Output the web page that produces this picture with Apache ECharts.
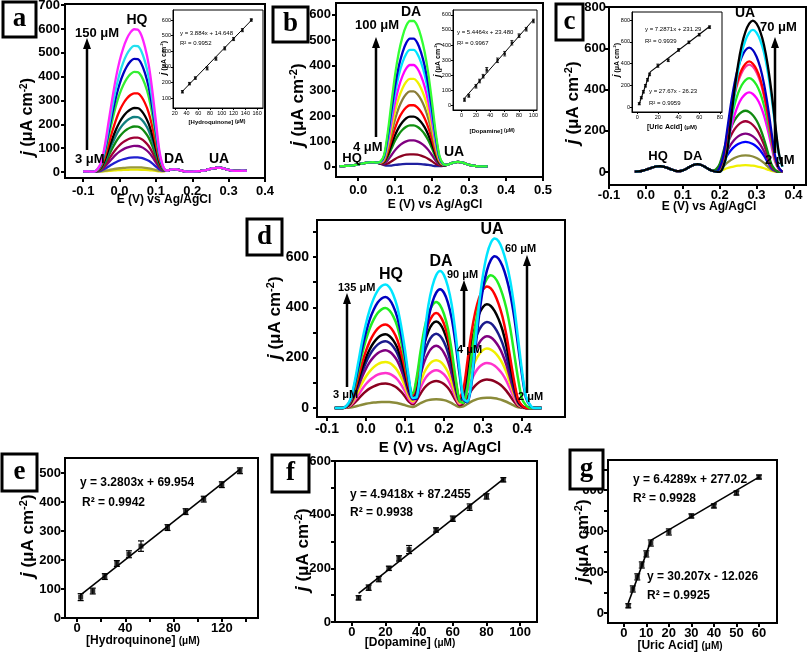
<!DOCTYPE html>
<html>
<head>
<meta charset="utf-8">
<script src="https://cdn.jsdelivr.net/npm/echarts@6.0.0/dist/echarts.min.js"></script>
<style>
html,body{margin:0;padding:0;background:#fff;}
#chart{width:807px;height:652px;}
</style>
</head>
<body>
<div id="chart"></div>
<script>
// ================= DATA =================
// Panel a: HQ varied (3 -> 150 uM)
const aPotential = [-0.10,-0.09,-0.08,-0.07,-0.06,-0.05,-0.04,-0.03,-0.02,-0.01,0.00,0.01,0.02,0.03,0.04,0.05,0.06,0.07,0.08,0.09,0.10,0.11,0.12,0.13,0.14,0.15,0.16,0.17,0.18,0.19,0.20,0.21,0.22,0.23,0.24,0.25,0.26,0.27,0.28,0.29,0.30,0.31,0.32,0.33,0.34,0.35];
const aBackground = [3,3,2,2,2,2,2,2,2,2,2,2,2,2,2,2,2,2,2,2,2,2,3,6,10,12,10,6,3,2,2,3,4,6,9,13,16,18,17,13,9,6,5,5,6,5];
const aHQShape = [[-0.06,0.02],[-0.05,0.07],[-0.04,0.19],[-0.03,0.35],[-0.02,0.51],[-0.01,0.655],[0.00,0.773],[0.01,0.862],[0.02,0.928],[0.03,0.973],[0.04,0.995],[0.05,0.993],[0.06,0.953],[0.07,0.87],[0.08,0.75],[0.09,0.57],[0.10,0.35],[0.11,0.14],[0.12,0.035]];
const aHQPeak = [8,18,60,108,143,190,230,268,330,420,475,530,600];

// Panel b: DA varied (4 -> 100 uM)
const bPotential = [-0.05,-0.04,-0.03,-0.02,-0.01,0.00,0.01,0.02,0.03,0.04,0.05,0.06,0.07,0.08,0.09,0.10,0.11,0.12,0.13,0.14,0.15,0.16,0.17,0.18,0.19,0.20,0.21,0.22,0.23,0.24,0.25,0.26,0.27,0.28,0.29,0.30,0.31,0.32,0.33,0.34,0.35];
const bBackground = [3,3,4,5,7,10,13,16,18,19,17,12,6,2,0,0,0,0,0,0,0,0,0,0,0,0,0,2,4,8,13,18,20,18,13,8,5,3,2,2,2];
const bDAShape = [[0.06,0.015],[0.07,0.07],[0.08,0.23],[0.09,0.437],[0.10,0.63],[0.11,0.78],[0.12,0.887],[0.13,0.96],[0.14,0.993],[0.15,0.993],[0.16,0.96],[0.17,0.887],[0.18,0.78],[0.19,0.63],[0.20,0.437],[0.21,0.23],[0.22,0.07],[0.23,0.015]];
const bDAPeak = [12,50,105,165,200,245,300,350,405,465,510,580];

// Panel c: UA varied (2 -> 70 uM)
const cPotential = [-0.03,-0.02,-0.01,0.00,0.01,0.02,0.03,0.04,0.05,0.06,0.07,0.08,0.09,0.10,0.11,0.12,0.13,0.14,0.15,0.16,0.17,0.18,0.19,0.20,0.21,0.22,0.23,0.24,0.25,0.26,0.27,0.28,0.29,0.30,0.31,0.32,0.33,0.34,0.35,0.36,0.37];
const cBackground = [2,3,6,11,17,23,27,28,25,19,12,6,4,8,16,27,35,38,34,25,14,6,2,1,1,1,1,1,1,1,1,1,1,1,1,1,1,1,1,1,1];
const cUAShape = [[0.19,0.035],[0.20,0.13],[0.21,0.33],[0.22,0.537],[0.23,0.71],[0.24,0.84],[0.25,0.927],[0.26,0.98],[0.27,1.00],[0.28,0.98],[0.29,0.927],[0.30,0.84],[0.31,0.71],[0.32,0.537],[0.33,0.33],[0.34,0.13],[0.35,0.035]];
const cUAPeak = [32,80,145,185,245,296,385,454,520,535,602,688,733];
const cUAShiftSteps = [0,0,0,0,0,0,1,1,1,1,1,2,2];

// Panel d: simultaneous HQ / DA / UA
const dPotential = [-0.08,-0.07,-0.06,-0.05,-0.04,-0.03,-0.02,-0.01,0.00,0.01,0.02,0.03,0.04,0.05,0.06,0.07,0.08,0.09,0.10,0.11,0.12,0.13,0.14,0.15,0.16,0.17,0.18,0.19,0.20,0.21,0.22,0.23,0.24,0.25,0.26,0.27,0.28,0.29,0.30,0.31,0.32,0.33,0.34,0.35,0.36,0.37,0.38,0.39,0.40,0.41,0.42,0.43,0.44,0.45];
const dHQShape = [[-0.05,0.018],[-0.04,0.07],[-0.03,0.197],[-0.02,0.365],[-0.01,0.537],[0.00,0.683],[0.01,0.80],[0.02,0.887],[0.03,0.95],[0.04,0.987],[0.05,1.00],[0.06,0.977],[0.07,0.917],[0.08,0.82],[0.09,0.665],[0.10,0.47],[0.11,0.245],[0.12,0.07],[0.13,0.01]];
const dDAShape = [[0.11,0.01],[0.12,0.07],[0.13,0.28],[0.14,0.537],[0.15,0.75],[0.16,0.887],[0.17,0.97],[0.18,1.00],[0.19,0.97],[0.20,0.887],[0.21,0.75],[0.22,0.537],[0.23,0.28],[0.24,0.07],[0.25,0.01]];
const dUAShape = [[0.24,0.03],[0.25,0.15],[0.26,0.38],[0.27,0.61],[0.28,0.785],[0.29,0.905],[0.30,0.974],[0.31,1.00],[0.32,0.984],[0.33,0.935],[0.34,0.857],[0.35,0.75],[0.36,0.60],[0.37,0.41],[0.38,0.22],[0.39,0.07],[0.40,0.02]];
const dHQPeak = [24,97,139,183,229,265,293,332,397,441,491];
const dDAPeak = [35,107,150,190,247,295,344,377,421,472,544];
const dUAPeak = [41,113,179,236,285,342,412,483,527,603,673];
const dDAShiftSteps = [0,0,0,0,0,0,0,0,0,1,1];
const dUAShiftSteps = [0,0,0,0,0,0,0,0,1,2,2];

// Panel e: calibration HQ
const eConc = [3,13,23,33,43,53,75,90,105,120,135];
const eCurrent = [72,93,143,188,220,248,312,367,410,460,508];
const eError = [12,10,10,10,12,18,10,10,10,10,10];
const eFit = [3.2803, 69.954];   // slope, intercept
const eFitRange = [3, 135];

// Panel f: calibration DA
const fConc = [4,10,16,22,28,34,50,60,70,80,90];
const fCurrent = [90,128,160,200,237,270,343,385,428,468,530];
const fError = [8,10,10,8,10,15,8,10,12,10,8];
const fFit = [4.9418, 87.2455];
const fFitRange = [4, 90];

// Panel g: calibration UA (two linear ranges)
const gConc = [2,4,6,8,10,12,20,30,40,50,60];
const gCurrent = [35,117,176,234,288,341,395,473,522,585,663];
const gError = [10,15,15,15,15,15,15,10,10,10,10];
const gFitLow = [30.207, -12.026];
const gFitLowRange = [2, 12.16];
const gFitHigh = [6.4289, 277.02];
const gFitHighRange = [12.16, 60];

// Insets
const iaConc = [33,45,55,75,90,105,120,135,150];
const iaCurrent = [140,192,228,290,352,418,478,535,600];
const iaError = [8,8,8,10,10,10,10,10,8];
const iaFit = [3.884, 14.648];
const iaFitRange = [33, 152];

const ibConc = [4,10,20,25,30,35,50,60,70,80,90,100];
const ibCurrent = [35,62,125,160,192,235,298,342,415,462,505,560];
const ibError = [10,10,12,12,12,15,15,15,15,12,12,12];
const ibFit = [5.4464, 23.480];
const ibFitRange = [4, 100];

const icConc = [2,4,6,8,10,12,20,30,40,50,60,70];
const icCurrent = [30,85,140,195,250,300,380,430,525,595,665,735];
const icError = [10,10,12,12,12,12,15,12,12,12,12,12];
const icFitLow = [27.67, -26.23];
const icFitLowRange = [2, 12.63];
const icFitHigh = [7.2871, 231.29];
const icFitHighRange = [12.63, 70];

// ================= STYLES =================
const aColors = ['#e8e800','#9a9a3a','#1f1fd0','#800080','#a00035','#108a10','#108080','#000000','#ff0000','#33ee33','#0000c0','#22e0ee','#ff22ff'];
const bColors = ['#2020a0','#8b0020','#800080','#109010','#000000','#ff0000','#8b7d3a','#f0f000','#ff00ff','#00e5ff','#0000cd','#33ff33'];
const cColors = ['#f0f000','#8b8b3a','#0000ff','#800080','#a00035','#108a10','#ff00ff','#22ee22','#ff3399','#ff0000','#0000c0','#00e5ff','#000000'];
const dColors = ['#8b8b3a','#8b0020','#ff33cc','#f0f000','#800080','#1a1a8c','#000000','#ff0000','#22ee22','#0000c0','#00e5ff'];

const FONT = 'Liberation Sans, Arial, sans-serif';
const SERIF = 'Liberation Serif, Times New Roman, serif';

// ================= BUILD =================
const grids = [], xAxes = [], yAxes = [], series = [], graphic = [];

function fmt1(v){ return (Math.abs(v) < 1e-9 ? 0 : v).toFixed(1); }
function fmt0(v){ return String(Math.round(v)); }

function panel(p){
  const i = grids.length;
  grids.push({left:p.l, top:p.t, width:p.w, height:p.h, show:true, borderColor:'#000', borderWidth:p.bw,
    backgroundColor:'rgba(0,0,0,0)', containLabel:false, outerBoundsMode:'none'});
  const mk = (range, ticks, labels, fmt, margin) => ({
    type:'value', gridIndex:i, min:range[0], max:range[1], scale:true,
    axisLine:{show:true, onZero:false, lineStyle:{color:'#000', width:p.bw}},
    axisTick:{show:true, customValues:ticks, length:p.tl, lineStyle:{color:'#000', width:p.bw}},
    axisLabel:{show:true, customValues:labels, formatter:fmt, color:'#000', fontSize:p.fs,
      fontWeight:p.fw || 'bold', fontFamily:FONT, margin:margin},
    splitLine:{show:false}
  });
  xAxes.push(mk(p.x, p.xt, p.xl || p.xt, p.xf, p.mx));
  yAxes.push(mk(p.y, p.yt, p.yl || p.yt, p.yf, p.my));
  return i;
}

function lookup(pairs, s){
  const m = new Map();
  pairs.forEach(pr => m.set(Math.round(pr[0]*100), pr[1]));
  return e => m.get(Math.round(e*100) - (s||0)) || 0;
}

function curve(gi, pts, color, w){
  series.push({type:'line', xAxisIndex:gi, yAxisIndex:gi, data:pts, showSymbol:false, smooth:0.3,
    lineStyle:{color:color, width:w || 2.3}, silent:true, z:2});
}

function errBars(gi, xs, ys, es, cap, lw){
  series.push({type:'custom', xAxisIndex:gi, yAxisIndex:gi, silent:true, z:3,
    data: xs.map((x,k)=>[x, ys[k], es[k]]),
    renderItem:(params, api)=>{
      const x = api.value(0), y = api.value(1), e = api.value(2);
      const a = api.coord([x, y+e]), b = api.coord([x, y-e]);
      const st = {stroke:'#000', lineWidth:lw};
      return {type:'group', children:[
        {type:'line', shape:{x1:a[0], y1:a[1], x2:b[0], y2:b[1]}, style:st},
        {type:'line', shape:{x1:a[0]-cap, y1:a[1], x2:a[0]+cap, y2:a[1]}, style:st},
        {type:'line', shape:{x1:b[0]-cap, y1:b[1], x2:b[0]+cap, y2:b[1]}, style:st}
      ]};
    }});
}
function points(gi, xs, ys, size){
  series.push({type:'scatter', xAxisIndex:gi, yAxisIndex:gi, symbol:'rect', symbolSize:size,
    itemStyle:{color:'#000'}, data: xs.map((x,k)=>[x, ys[k]]), silent:true, z:4});
}
function fitLine(gi, coef, range, w){
  series.push({type:'line', xAxisIndex:gi, yAxisIndex:gi, showSymbol:false, silent:true, z:3,
    lineStyle:{color:'#000', width:w},
    data: range.map(x => [x, coef[0]*x + coef[1]])});
}

// ---- text helpers ----
function txt(x, y, s, size, align, extra){
  graphic.push({type:'text', x:x, y:y, z:100, silent:true, style:Object.assign({
    text:s, fill:'#000', fontSize:size, fontWeight:'bold', fontFamily:FONT,
    align:align||'left', textAlign:align||'left', verticalAlign:'middle', textVerticalAlign:'middle'}, extra||{})});
}
function arrow(x, yb, yt, w, hw, hl){
  graphic.push({type:'line', z:100, silent:true, shape:{x1:x, y1:yb, x2:x, y2:yt+hl-1}, style:{stroke:'#000', lineWidth:w}});
  graphic.push({type:'polygon', z:100, silent:true, shape:{points:[[x-hw, yt+hl],[x+hw, yt+hl],[x, yt]]}, style:{fill:'#000'}});
}
function letterBox(x, y, w, h, ch){
  graphic.push({type:'rect', z:110, silent:true, shape:{x:x, y:y, width:w, height:h}, style:{fill:'#fff', stroke:'#000', lineWidth:3}});
  graphic.push({type:'text', z:111, silent:true, x:x+w/2, y:y+h/2, style:{text:ch, fill:'#000', fontSize:27, fontWeight:'bold', fontFamily:SERIF,
    align:'center', textAlign:'center', verticalAlign:'middle', textVerticalAlign:'middle'}});
}
function yTitle(x, y, size){
  graphic.push({type:'text', z:100, silent:true, x:x, y:y, rotation:Math.PI/2, style:{
    text:'{j|j}{n| (}{m|μA cm}{s|-2}{n|)}', fill:'#000',
    align:'center', textAlign:'center', verticalAlign:'middle', textVerticalAlign:'middle',
    rich:{
      j:{fontSize:size+2, fontStyle:'italic', fontWeight:'bold', fontFamily:FONT, fill:'#000'},
      n:{fontSize:size, fontWeight:'bold', fontFamily:FONT, fill:'#000'},
      m:{fontSize:size, fontWeight:'bold', fontFamily:FONT, fill:'#000'},
      s:{fontSize:Math.round(size*0.62), fontWeight:'bold', fontFamily:FONT, fill:'#000', verticalAlign:'top', padding:[0,0,Math.round(size*0.45),0]}
    }}});
}
function concTitle(x, y, name, size){
  graphic.push({type:'text', z:100, silent:true, x:x, y:y, style:{
    text:'{a|' + name + ' }{b|(μM)}', fill:'#000',
    align:'center', textAlign:'center', verticalAlign:'middle', textVerticalAlign:'middle',
    rich:{a:{fontSize:size, fontWeight:'bold', fontFamily:FONT, fill:'#000'},
          b:{fontSize:Math.round(size*0.85), fontWeight:'bold', fontFamily:FONT, fill:'#000'}}}});
}

// ================= PANEL a =================
const PA = panel({l:65, t:4, w:200, h:174, x:[-0.15,0.4], y:[-25,705],
  xt:[-0.1,0,0.1,0.2,0.3,0.4], yt:[0,100,200,300,400,500,600,700], xf:fmt1, yf:fmt0,
  fs:13, bw:2, tl:4, mx:7, my:5});
{
  const shape = lookup(aHQShape);
  aHQPeak.forEach((h,k)=>{
    curve(PA, aPotential.map((e,j)=>[e, aBackground[j] + h*shape(e)]), aColors[k]);
  });
}
// ================= PANEL b =================
const PB = panel({l:336, t:3, w:207, h:174, x:[-0.06,0.5], y:[-40,647],
  xt:[0,0.1,0.2,0.3,0.4,0.5], yt:[0,100,200,300,400,500,600], xf:fmt1, yf:fmt0,
  fs:13, bw:2, tl:4, mx:7, my:5});
{
  const shape = lookup(bDAShape);
  bDAPeak.forEach((h,k)=>{
    curve(PB, bPotential.map((e,j)=>[e, bBackground[j] + h*shape(e)]), bColors[k]);
  });
}
// ================= PANEL c =================
const PC = panel({l:609, t:7, w:197, h:178, x:[-0.1,0.434], y:[-63,800],
  xt:[-0.1,0,0.1,0.2,0.3,0.4], yt:[0,200,400,600,800], xf:fmt1, yf:fmt0,
  fs:13, bw:2, tl:4, mx:4, my:3});
{
  cUAPeak.forEach((h,k)=>{
    const shape = lookup(cUAShape, cUAShiftSteps[k]);
    curve(PC, cPotential.map((e,j)=>[e, cBackground[j] + h*shape(e)]), cColors[k]);
  });
}
// ================= PANEL d =================
const PD = panel({l:317, t:220, w:248, h:197, x:[-0.1256,0.5103], y:[-36,747],
  xt:[-0.1,0,0.1,0.2,0.3,0.4], yt:[0,100,200,300,400,500,600,700], yl:[0,200,400,600], xf:fmt1, yf:fmt0,
  fs:14, bw:2, tl:4, mx:5, my:8});
{
  const hq = lookup(dHQShape);
  dHQPeak.forEach((h,k)=>{
    const da = lookup(dDAShape, dDAShiftSteps[k]);
    const ua = lookup(dUAShape, dUAShiftSteps[k]);
    curve(PD, dPotential.map(e=>[e, h*hq(e) + dDAPeak[k]*da(e) + dUAPeak[k]*ua(e)]), dColors[k], 2.5);
  });
}
// ================= PANEL e =================
const PE = panel({l:65, t:458, w:193, h:160, x:[-10,150], y:[0,552],
  xt:[0,20,40,60,80,100,120,140], xl:[0,40,80,120], yt:[0,100,200,300,400,500], xf:fmt0, yf:fmt0,
  fs:13, bw:2, tl:4, mx:4, my:4});
fitLine(PE, eFit, eFitRange, 1.6); errBars(PE, eConc, eCurrent, eError, 3, 1.2); points(PE, eConc, eCurrent, 5);
// ================= PANEL f =================
const PF = panel({l:335, t:461, w:202, h:161, x:[-10,110], y:[0,600],
  xt:[0,20,40,60,80,100], yt:[0,100,200,300,400,500,600], yl:[0,200,400,600], xf:fmt0, yf:fmt0,
  fs:13, bw:2, tl:4, mx:4, my:4});
fitLine(PF, fFit, fFitRange, 1.6); errBars(PF, fConc, fCurrent, fError, 3, 1.2); points(PF, fConc, fCurrent, 5);
// ================= PANEL g =================
const PG = panel({l:608, t:460, w:169, h:163, x:[-7,68], y:[-49,746],
  xt:[0,10,20,30,40,50,60], yt:[0,100,200,300,400,500,600,700], yl:[0,200,400,600], xf:fmt0, yf:fmt0,
  fs:13, bw:2, tl:4, mx:4, my:4});
fitLine(PG, gFitLow, gFitLowRange, 1.6); fitLine(PG, gFitHigh, gFitHighRange, 1.6);
errBars(PG, gConc, gCurrent, gError, 3, 1.2); points(PG, gConc, gCurrent, 5);

// ================= INSETS =================
const IA = panel({l:173, t:10, w:90, h:98, x:[17,170], y:[36,664],
  xt:[20,40,60,80,100,120,140,160], yt:[100,200,300,400,500,600], xf:fmt0, yf:fmt0,
  fs:5.5, fw:'normal', bw:1, tl:2, mx:2, my:2});
fitLine(IA, iaFit, iaFitRange, 1); errBars(IA, iaConc, iaCurrent, iaError, 1.5, 0.8); points(IA, iaConc, iaCurrent, 2.5);

const IB = panel({l:453, t:10, w:84, h:100, x:[-12,105], y:[-33,633],
  xt:[0,20,40,60,80,100], yt:[0,100,200,300,400,500,600], xf:fmt0, yf:fmt0,
  fs:5.5, fw:'normal', bw:1, tl:2, mx:2, my:2});
fitLine(IB, ibFit, ibFitRange, 1); errBars(IB, ibConc, ibCurrent, ibError, 1.5, 0.8); points(IB, ibConc, ibCurrent, 2.5);

const IC = panel({l:632, t:12, w:90, h:100, x:[-5,82], y:[-46,874],
  xt:[0,20,40,60,80], yt:[0,200,400,600,800], xf:fmt0, yf:fmt0,
  fs:5.5, fw:'normal', bw:1, tl:2, mx:2, my:2});
fitLine(IC, icFitLow, icFitLowRange, 1.2); fitLine(IC, icFitHigh, icFitHighRange, 1.2);
errBars(IC, icConc, icCurrent, icError, 1.5, 0.8); points(IC, icConc, icCurrent, 2.5);

// ================= ANNOTATIONS =================
// panel a
txt(137, 20, 'HQ', 14, 'center');
txt(75, 33, '150 μM', 13); arrow(87, 150, 38, 2.5, 4, 11);
txt(75, 159, '3 μM', 13);
txt(174, 159, 'DA', 14, 'center'); txt(219, 159, 'UA', 14, 'center');
txt(164, 200, 'E (V) vs Ag/AgCl', 12, 'center');
yTitle(28, 117, 16);
// panel b
txt(411, 12, 'DA', 14, 'center');
txt(355, 25, '100 μM', 13); arrow(376, 137, 37, 2.5, 4, 11);
txt(353, 147, '4 μM', 13);
txt(352, 158, 'HQ', 13, 'center'); txt(454, 152, 'UA', 14, 'center');
txt(435, 205, 'E (V) vs Ag/AgCl', 12, 'center');
yTitle(298, 105, 17);
// panel c
txt(745, 13, 'UA', 14, 'center');
txt(760, 27, '70 μM', 13); arrow(775, 153, 37, 2.5, 4, 11);
txt(765, 160, '2 μM', 13);
txt(658, 156, 'HQ', 13, 'center'); txt(693, 156, 'DA', 13, 'center');
txt(709, 207, 'E (V) vs Ag/AgCl', 12, 'center');
yTitle(573, 103, 17);
// panel d
txt(492, 230, 'UA', 16, 'center'); txt(441, 262, 'DA', 16, 'center'); txt(391, 275, 'HQ', 16, 'center');
txt(505, 249, '60 μM', 11); arrow(527, 393, 255, 2.5, 4, 11);
txt(447, 275, '90 μM', 11); arrow(464, 347, 280, 2.5, 4, 11);
txt(457, 350, '4 μM', 11);
txt(338, 288, '135 μM', 11); arrow(347, 387, 293, 2.5, 4, 11);
txt(333, 395, '3 μM', 11); txt(518, 397, '2 μM', 11);
txt(440, 448, 'E (V) vs. Ag/AgCl', 15, 'center');
yTitle(275, 318, 17);
// panel e
txt(80, 483, 'y = 3.2803x + 69.954', 12); txt(82, 503, 'R² = 0.9942', 12);
concTitle(143, 641, '[Hydroquinone]', 12); yTitle(28, 536, 17);
// panel f
txt(350, 495, 'y = 4.9418x + 87.2455', 12); txt(350, 513, 'R² = 0.9938', 12);
concTitle(410, 643, '[Dopamine]', 12); yTitle(303, 550, 17);
// panel g
txt(633, 480, 'y = 6.4289x + 277.02', 12); txt(633, 499, 'R² = 0.9928', 12);
txt(647, 577, 'y = 30.207x - 12.026', 12); txt(647, 596, 'R² = 0.9925', 12);
concTitle(680, 646, '[Uric Acid]', 12); yTitle(583, 541, 17);
// inset a
txt(180, 33, 'y = 3.884x + 14.648', 6, 'left', {fontWeight:'normal'});
txt(180, 43, 'R² = 0.9952', 6, 'left', {fontWeight:'normal'});
concTitle(217, 122, '[Hydroquinone]', 6); yTitle(164, 58, 7);
// inset b
txt(457, 32, 'y = 5.4464x + 23.480', 6, 'left', {fontWeight:'normal'});
txt(457, 43, 'R² = 0.9967', 6, 'left', {fontWeight:'normal'});
concTitle(492, 131, '[Dopamine]', 6); yTitle(438, 60, 7);
// inset c
txt(645, 29, 'y = 7.2871x + 231.29', 6, 'left', {fontWeight:'normal'});
txt(645, 41, 'R² = 0.9939', 6, 'left', {fontWeight:'normal'});
txt(649, 91, 'y = 27.67x - 26.23', 6, 'left', {fontWeight:'normal'});
txt(649, 103, 'R² = 0.9959', 6, 'left', {fontWeight:'normal'});
concTitle(672, 127, '[Uric Acid]', 7); yTitle(617, 60, 7);

// letter boxes
letterBox(3, 2, 33, 35, 'a');
letterBox(273, 7, 35, 35, 'b');
letterBox(556, 4, 27, 36, 'c');
letterBox(247, 219, 35, 36, 'd');
letterBox(2, 454, 35, 37, 'e');
letterBox(272, 455, 37, 37, 'f');
letterBox(570, 450, 33, 39, 'g');

const chart = echarts.init(document.getElementById('chart'), null, {renderer:'canvas', width:807, height:652});
chart.setOption({
  animation:false,
  backgroundColor:'#fff',
  grid:grids, xAxis:xAxes, yAxis:yAxes, series:series, graphic:graphic
});
</script>
</body>
</html>
